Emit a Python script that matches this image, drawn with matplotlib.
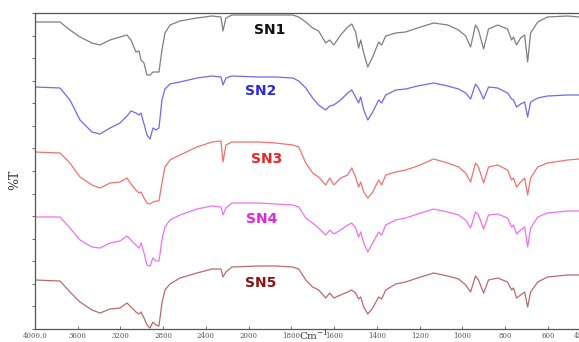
import numpy as np
import matplotlib
matplotlib.use("Agg")
import matplotlib.pyplot as plt

# Wavenumbers (cm-1) shared by all spectra
wavenumber = [4000, 3766, 3673, 3579, 3467, 3392, 3298, 3205, 3139, 3102,
              3055, 3027, 3008, 2980, 2952, 2924, 2896, 2868, 2840, 2812,
              2784, 2737, 2644, 2484, 2344, 2260, 2241, 2213, 2157, 1953,
              1874, 1794, 1766, 1733, 1701, 1673, 1640, 1621, 1602, 1570,
              1537, 1518, 1500, 1486, 1476, 1462, 1443, 1420, 1392, 1378,
              1359, 1312, 1266, 1210, 1135, 1069, 1018, 985, 962, 939,
              925, 901, 878, 835, 789, 770, 761, 747, 728, 709,
              695, 681, 648, 602, 508, 452]

# Transmittance (stacked, arbitrary units)
sn1 = [307, 307, 299, 292, 286, 284, 289, 292, 294, 289,
       277, 278, 269, 266, 254, 254, 257, 257, 257, 279,
       296, 304, 308, 311, 313, 312, 298, 311, 314, 314,
       314, 314, 312, 307, 301, 298, 286, 289, 284, 294,
       302, 305, 297, 281, 289, 276, 262, 272, 287, 284,
       293, 296, 297, 301, 306, 304, 299, 293, 282, 304,
       299, 280, 300, 304, 300, 289, 292, 284, 291, 294,
       267, 296, 307, 312, 313, 312]
sn2 = [242, 241, 229, 209, 197, 195, 201, 206, 213, 218,
       216, 214, 216, 205, 194, 190, 201, 199, 201, 229,
       240, 245, 247, 251, 253, 252, 244, 251, 253, 252,
       252, 251, 248, 241, 231, 224, 219, 223, 224, 229,
       236, 239, 232, 226, 232, 219, 209, 217, 229, 226,
       234, 239, 240, 243, 246, 243, 240, 236, 230, 245,
       241, 230, 242, 241, 236, 230, 229, 222, 225, 227,
       212, 227, 231, 233, 234, 234]
sn3 = [177, 176, 166, 152, 144, 141, 146, 147, 151, 145,
       139, 136, 137, 131, 126, 125, 127, 128, 128, 146,
       162, 169, 174, 182, 187, 188, 167, 184, 187, 187,
       186, 184, 182, 166, 156, 152, 144, 151, 144, 151,
       154, 161, 152, 142, 147, 137, 131, 137, 149, 144,
       154, 157, 159, 163, 170, 166, 162, 156, 147, 166,
       162, 146, 162, 164, 159, 149, 151, 142, 147, 151,
       134, 151, 162, 166, 169, 170]
sn4 = [112, 112, 101, 89, 82, 81, 86, 88, 93, 89,
       84, 81, 86, 76, 64, 63, 71, 68, 68, 89,
       102, 109, 114, 120, 123, 122, 114, 121, 126, 126,
       125, 124, 122, 111, 106, 101, 94, 99, 95, 99,
       104, 106, 101, 92, 97, 86, 77, 86, 97, 94,
       104, 109, 111, 115, 120, 117, 114, 109, 101, 117,
       114, 100, 114, 115, 111, 102, 104, 95, 99, 102,
       82, 101, 112, 116, 118, 118]
sn5 = [49, 48, 37, 27, 19, 16, 20, 21, 26, 22,
       17, 15, 17, 11, 4, 1, 7, 4, 3, 26,
       39, 45, 51, 56, 60, 60, 52, 57, 62, 63,
       63, 62, 60, 49, 42, 39, 31, 36, 31, 34,
       37, 39, 36, 30, 32, 22, 15, 21, 32, 30,
       39, 45, 47, 51, 56, 53, 50, 44, 37, 53,
       49, 36, 49, 51, 47, 39, 41, 31, 34, 37,
       22, 37, 47, 52, 54, 54]

names = ["SN1", "SN2", "SN3", "SN4", "SN5"]
series = [sn1, sn2, sn3, sn4, sn5]
line_colors = ["#7f7f7f", "#6b6bf0", "#f07272", "#f070f0", "#b86b6b"]
label_colors = ["#111111", "#2a2ae0", "#e82626", "#e024e0", "#8a1414"]
label_wn = [1902, 1944, 1916, 1939, 1944]
label_t = [299, 238, 170, 110, 46]

xticks = [4000, 3600, 3200, 2800, 2400, 2000, 1800, 1600, 1400, 1200, 1000, 800, 600, 450]
xtick_labels = ["4000.0", "3600", "3200", "2800", "2400", "2000", "1800",
                "1600", "1400", "1200", "1000", "800", "600", "450"]


def fwd(x):
    x = np.asarray(x, dtype=float)
    return np.where(x >= 2000, x, 2 * x - 2000)


def inv(u):
    u = np.asarray(u, dtype=float)
    return np.where(u >= 2000, u, (u + 2000) / 2)


fig = plt.figure(figsize=(5.79, 3.42), dpi=100)
ax = fig.add_axes([35 / 579, 13 / 342, 545 / 579, 316 / 342])
ax.set_xscale("function", functions=(fwd, inv))

for name, vals, lc, tc, lx, ly in zip(names, series, line_colors, label_colors, label_wn, label_t):
    ax.plot(wavenumber, vals, color=lc, lw=0.9)
    ax.text(lx, ly, name, color=tc, fontsize=10, fontweight="bold",
            ha="center", va="center", family="DejaVu Sans")

ax.set_xlim(4000, 450)
ax.set_ylim(0, 316)
ax.set_xticks(xticks)
ax.set_xticklabels(xtick_labels, fontsize=5, color="#555555", family="DejaVu Serif")
ax.set_yticks(np.linspace(0, 316, 15))
ax.set_yticklabels([])
ax.xaxis.set_minor_locator(matplotlib.ticker.NullLocator())
ax.tick_params(axis="x", direction="in", length=2, width=0.6, color="#555555", pad=2.5)
ax.tick_params(axis="y", direction="out", length=2, width=0.6, color="#555555")

for side in ["left", "bottom", "top"]:
    ax.spines[side].set_color("#555555")
    ax.spines[side].set_linewidth(0.9)
ax.spines["right"].set_visible(False)

fig.text(15 / 579, 1 - 180 / 342, "%T", rotation=90, fontsize=9, family="DejaVu Serif",
         ha="center", va="center", color="#333333")
fig.text(299 / 579, 1 - 335 / 342, r"Cm$^{\mathregular{-1}}$", fontsize=7.5,
         family="DejaVu Serif", ha="left", va="center", color="#333333")

fig.savefig("out.png", dpi=100)
